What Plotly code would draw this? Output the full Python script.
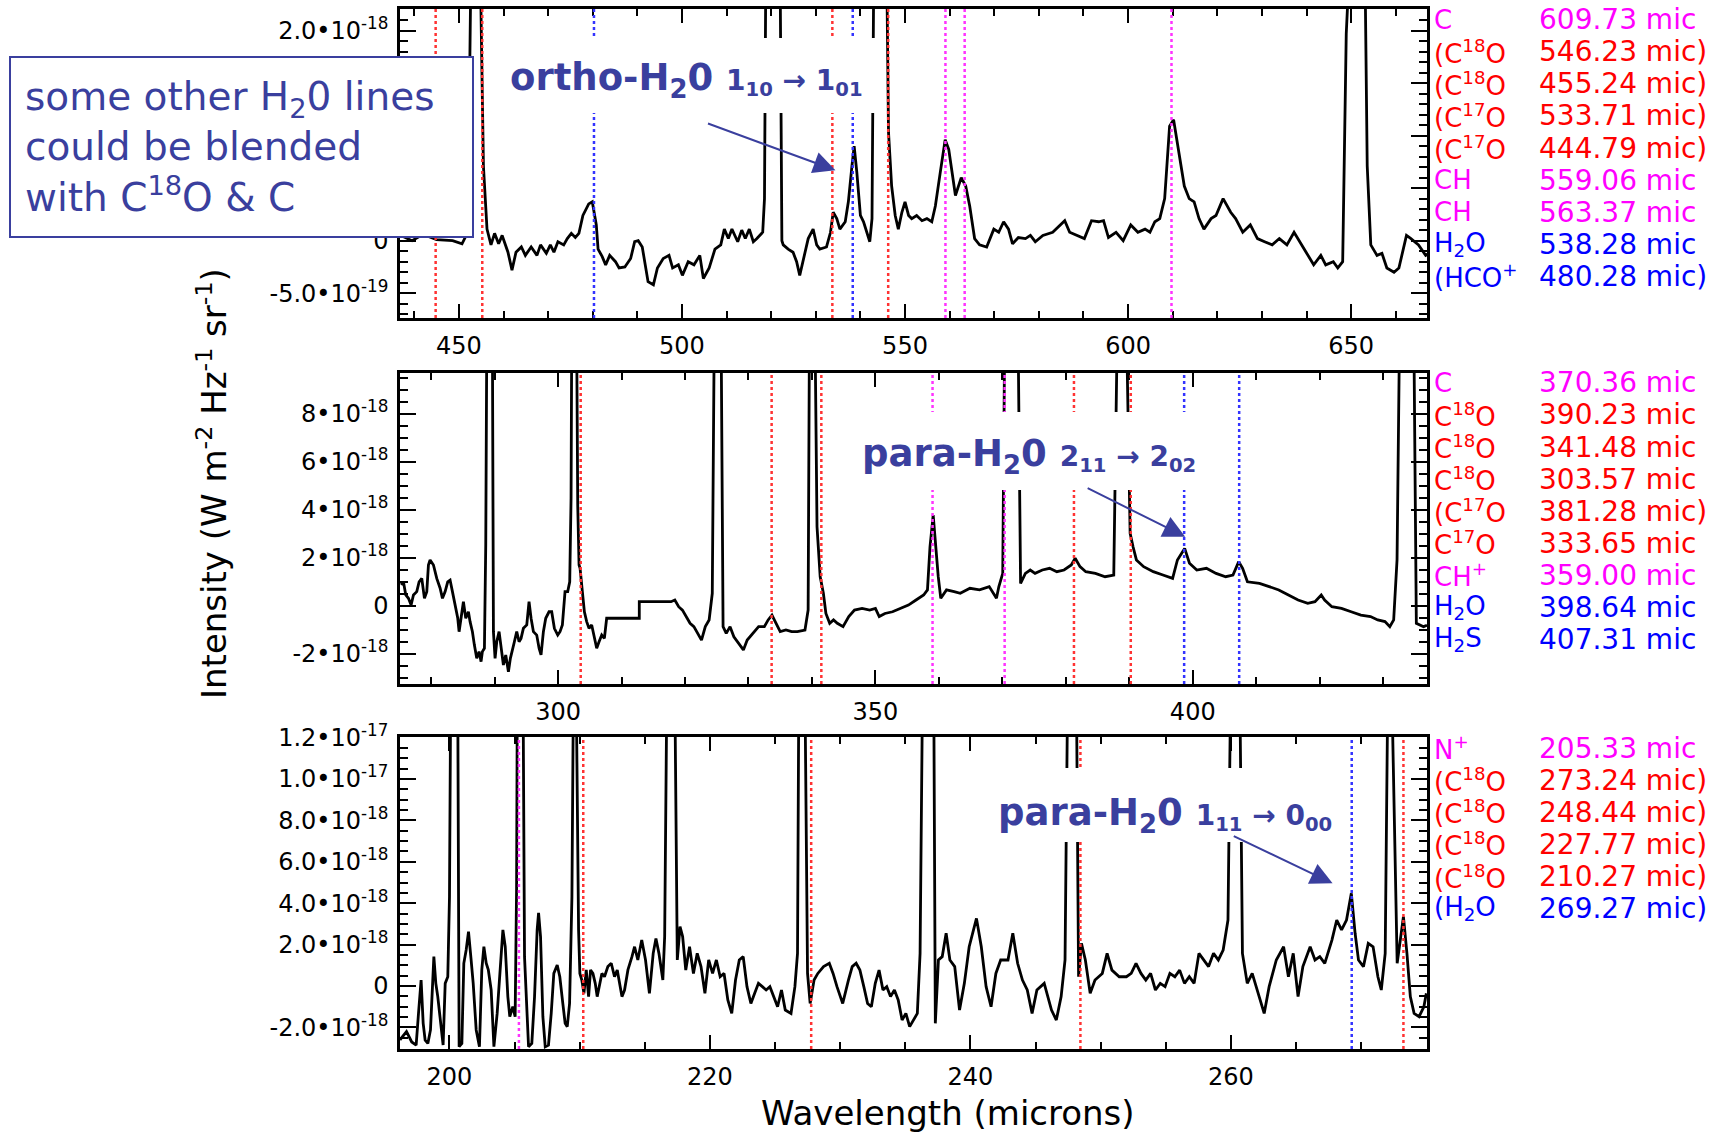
import plotly.graph_objects as go

FIG_W, FIG_H = 1710, 1134

# ---------------- spectra (wavelength in microns, intensity in 1e-18 W m^-2 Hz^-1 sr^-1)
top_spectrum = [
    (437.0, 0.05), (439.5, 0.0), (442.0, 0.06), (445.0, 0.01), (448.6, 0.00), (450.7, -0.03), (452.0, 0.08),
    (452.7, 2.6), (454.8, 2.6), (455.5, 0.71), (456.3, 0.11), (457.2, -0.04), (458.0, 0.07), (458.9, -0.03),
    (459.7, 0.05), (461.0, -0.11), (461.9, -0.28), (462.8, -0.11), (464.0, -0.06), (464.9, -0.14), (466.2, -0.06),
    (467.5, -0.14), (468.3, -0.04), (469.6, -0.12), (470.5, -0.04), (471.3, -0.11), (472.2, -0.01), (473.5, -0.04),
    (474.3, 0.02), (475.2, 0.07), (476.1, 0.03), (476.9, 0.07), (477.8, 0.24), (479.1, 0.35), (479.9, 0.37),
    (480.8, 0.15), (481.2, -0.08), (482.1, -0.15), (482.9, -0.23), (483.8, -0.14), (485.1, -0.20), (485.9, -0.26),
    (487.2, -0.25), (488.5, -0.17), (489.4, -0.01), (490.2, 0.00), (491.1, -0.06), (492.4, -0.39), (493.6, -0.42),
    (494.5, -0.26), (495.8, -0.17), (497.1, -0.14), (497.9, -0.26), (499.2, -0.23), (500.1, -0.33), (501.4, -0.20),
    (502.7, -0.23), (504.0, -0.14), (504.8, -0.36), (506.1, -0.26), (507.4, -0.08), (508.7, -0.04), (509.5, 0.11),
    (510.4, 0.02), (511.2, 0.11), (512.5, -0.01), (513.4, 0.10), (514.2, 0.02), (515.1, 0.11), (516.0, -0.01),
    (516.8, 0.02), (518.1, 0.08), (518.5, 0.40), (518.8, 2.6), (522.0, 2.6), (522.4, 0.0), (522.7, -0.04),
    (523.8, -0.08), (524.9, -0.11), (525.7, -0.20), (526.4, -0.33), (527.1, -0.20), (528.3, 0.02), (529.4, 0.11),
    (530.2, -0.04), (530.9, -0.08), (532.4, -0.06), (533.3, 0.08), (533.9, 0.27), (534.7, 0.21), (535.4, 0.11),
    (536.6, 0.18), (537.3, 0.37), (538.1, 0.71), (538.6, 0.90), (539.2, 0.65), (540.0, 0.24), (540.7, 0.18),
    (541.5, 0.08), (542.1, -0.01), (542.6, 0.21), (543.0, 2.6), (545.9, 2.6), (546.3, 1.03), (547.0, 0.52),
    (547.8, 0.24), (548.5, 0.11), (549.3, 0.27), (550.0, 0.37), (550.8, 0.24), (551.5, 0.21), (552.6, 0.24),
    (553.8, 0.19), (554.9, 0.21), (556.0, 0.18), (556.8, 0.33), (557.9, 0.65), (559.0, 0.96), (559.8, 0.87),
    (560.5, 0.65), (561.3, 0.43), (562.6, 0.60), (563.6, 0.52), (564.5, 0.33), (565.6, 0.02), (566.7, -0.04),
    (568.3, -0.06), (569.9, 0.11), (571.0, 0.08), (572.1, 0.18), (573.2, 0.11), (574.1, -0.03), (575.4, 0.03),
    (577.0, 0.02), (578.1, 0.05), (579.2, -0.01), (580.9, 0.05), (583.1, 0.08), (584.7, 0.15), (585.8, 0.19),
    (586.9, 0.08), (588.5, 0.05), (590.2, 0.02), (591.8, 0.19), (593.4, 0.18), (594.5, 0.19), (595.6, 0.03),
    (597.3, 0.08), (598.9, 0.00), (600.6, 0.15), (602.2, 0.08), (603.8, 0.11), (604.9, 0.08), (606.0, 0.18),
    (607.1, 0.21), (608.2, 0.40), (609.3, 1.09), (610.2, 1.15), (610.9, 0.96), (612.6, 0.52), (613.7, 0.40),
    (614.8, 0.37), (615.9, 0.21), (617.0, 0.11), (618.6, 0.21), (619.7, 0.24), (621.3, 0.40), (623.0, 0.27),
    (624.1, 0.21), (625.7, 0.08), (627.4, 0.15), (629.0, 0.02), (630.6, -0.01), (632.3, -0.04), (633.9, 0.02),
    (635.6, -0.04), (637.2, 0.08), (638.8, -0.04), (639.9, -0.11), (641.6, -0.23), (643.2, -0.14), (644.3, -0.23),
    (646.0, -0.20), (647.0, -0.26), (648.1, -0.20), (648.9, 1.97), (649.6, 2.6), (653.1, 2.6), (653.6, 0.71),
    (654.4, -0.04), (655.8, -0.14), (656.9, -0.12), (658.0, -0.26), (659.6, -0.30), (660.7, -0.26), (662.4, 0.05),
    (663.4, 0.02), (665.1, -0.04), (666.7, -0.14), (667.8, -0.11),
]

mid_spectrum = [
    (275.28, 0.88), (275.64, 1.01), (276.01, 0.46), (276.43, 0.32), (276.85, 0.04), (277.22, 0.46), (277.74, 0.60),
    (278.11, 1.01), (278.53, 1.15), (278.95, 0.32), (279.32, 0.60), (279.58, 1.71), (279.84, 1.92), (280.37, 1.71),
    (280.89, 1.15), (281.42, 0.74), (281.79, 0.32), (282.21, 0.60), (282.62, 1.01), (282.99, 1.08), (283.36, 0.60),
    (283.78, 0.04), (284.20, -0.51), (284.41, -1.07), (284.72, -0.51), (285.09, 0.18), (285.46, -0.51), (285.88, -0.24),
    (286.14, -0.65), (286.51, -1.07), (286.82, -1.63), (287.19, -2.18), (287.56, -1.90), (287.87, -2.32), (288.08, -1.90),
    (288.40, -1.76), (288.61, 2.54), (288.77, 11.0), (289.66, 11.0), (289.82, -1.07), (290.08, -2.18), (290.34, -1.49),
    (290.71, -1.07), (291.02, -1.63), (291.39, -2.46), (291.76, -2.04), (292.18, -2.74), (292.49, -2.18), (292.81, -1.76),
    (293.12, -1.49), (293.49, -1.07), (293.86, -1.49), (294.17, -1.35), (294.54, -0.93), (295.07, -0.79), (295.43, 0.18),
    (295.75, -0.51), (296.12, -1.07), (296.64, -1.21), (297.01, -1.76), (297.32, -2.04), (297.69, -1.07), (298.06, -0.51),
    (298.58, -0.24), (299.00, -0.24), (299.42, -0.93), (299.95, -1.21), (300.31, -1.07), (300.68, -0.79), (301.10, 0.60),
    (301.52, 0.60), (301.84, 1.01), (302.05, 4.49), (302.15, 11.0), (302.94, 11.0), (303.10, 4.21), (303.31, 1.71),
    (303.47, 1.57), (303.83, 0.60), (304.15, -0.24), (304.51, -0.65), (304.88, -0.93), (305.30, -0.79), (305.72, -1.35),
    (306.09, -1.76), (306.46, -1.49), (306.88, -1.21), (307.30, -1.35), (307.66, -0.51), (307.93, -0.51), (312.80, -0.51),
    (312.80, 0.18), (317.80, 0.18), (318.40, 0.25), (319.00, -0.03), (319.60, -0.17), (320.20, -0.44), (320.80, -0.72),
    (321.40, -0.86), (322.00, -1.14), (322.60, -1.42), (323.20, -0.86), (323.80, -0.58), (324.30, 0.53), (324.60, 11.0),
    (325.70, 11.0), (326.00, -0.86), (326.50, -1.14), (327.10, -0.86), (327.70, -1.28), (328.60, -1.63), (329.20, -1.83),
    (329.80, -1.42), (330.70, -1.14), (331.60, -0.86), (332.50, -0.86), (333.10, -0.58), (333.70, -0.38), (334.40, -0.72),
    (335.00, -1.07), (335.90, -1.00), (336.80, -1.07), (337.70, -1.07), (338.90, -1.00), (339.40, -0.17), (339.60, 11.0),
    (340.50, 11.0), (340.80, 3.30), (341.30, 1.22), (341.80, 0.53), (342.20, -0.31), (342.80, -0.72), (343.40, -0.58),
    (344.00, -0.72), (344.90, -0.86), (345.80, -0.44), (346.70, -0.17), (347.90, -0.10), (349.10, -0.17), (350.00, -0.10),
    (350.60, -0.44), (351.50, -0.31), (352.70, -0.24), (354.00, -0.10), (355.20, 0.04), (356.40, 0.25), (357.60, 0.46),
    (358.20, 0.67), (358.60, 2.47), (359.10, 3.79), (359.50, 2.47), (359.90, 1.22), (360.30, 0.32), (361.20, 0.67),
    (362.40, 0.60), (363.37, 0.53), (364.89, 0.74), (366.41, 0.67), (367.93, 0.81), (369.07, 0.32), (369.45, 0.81),
    (370.06, 1.36), (370.36, 11.0), (372.49, 11.0), (372.87, 0.94), (373.63, 1.36), (374.39, 1.50), (375.15, 1.36),
    (376.30, 1.50), (377.44, 1.57), (378.58, 1.43), (379.72, 1.50), (380.86, 1.71), (381.47, 1.99), (382.23, 1.64),
    (383.14, 1.43), (384.66, 1.36), (386.18, 1.22), (387.55, 1.29), (388.08, 11.0), (389.60, 11.0), (390.13, 3.03),
    (390.59, 2.47), (391.12, 1.92), (392.26, 1.64), (393.78, 1.43), (395.30, 1.29), (396.82, 1.15), (397.58, 1.92),
    (398.72, 2.40), (399.48, 1.78), (400.63, 1.50), (402.15, 1.57), (403.67, 1.36), (405.19, 1.22), (406.33, 1.29),
    (407.24, 1.85), (407.85, 1.57), (408.61, 1.01), (410.51, 0.94), (412.03, 0.81), (413.55, 0.67), (415.07, 0.46),
    (416.59, 0.25), (418.11, 0.11), (419.25, 0.18), (420.24, 0.46), (420.77, 0.25), (421.91, -0.03), (423.43, -0.10),
    (424.95, -0.24), (426.48, -0.38), (428.00, -0.44), (429.14, -0.58), (430.28, -0.65), (431.04, -0.86), (431.65, -0.58),
    (432.18, 1.92), (432.56, 11.0), (434.84, 11.0), (435.22, -0.72), (436.36, -0.86), (436.90, -0.80),
]

bot_spectrum = [
    (196.20, -2.60), (196.70, -2.20), (197.10, -2.70), (197.44, -2.85), (197.62, -1.32), (197.82, 0.29), (197.98, -1.80),
    (198.13, -2.61), (198.34, -2.77), (198.54, -2.12), (198.80, 1.42), (198.95, 0.13), (199.10, -0.51), (199.31, -1.64),
    (199.51, -2.85), (199.67, 0.13), (199.87, 0.45), (200.00, 4.32), (200.08, 13.0), (200.64, 13.0), (200.74, -2.93),
    (200.95, -2.77), (201.10, 1.10), (201.28, 1.74), (201.46, 2.63), (201.66, 1.26), (201.82, 0.13), (202.05, -2.12),
    (202.30, -2.93), (202.48, 0.78), (202.64, 1.90), (202.82, 1.10), (202.98, 0.78), (203.20, -0.19), (203.41, -2.93),
    (203.66, -1.32), (203.92, 1.10), (204.10, 2.71), (204.28, 1.90), (204.48, -0.51), (204.63, -1.48), (204.86, -0.99),
    (205.04, -1.48), (205.15, 4.64), (205.20, 13.0), (205.66, 13.0), (205.76, 1.42), (205.91, -0.51), (206.07, -2.93),
    (206.32, -2.77), (206.53, -0.51), (206.73, 2.71), (206.84, 3.54), (206.99, 2.39), (207.17, -1.48), (207.35, -2.93),
    (207.60, -2.85), (207.81, -1.32), (208.01, 0.61), (208.27, 1.02), (208.47, 0.45), (208.70, -0.84), (208.88, -1.80),
    (209.04, -1.96), (209.22, -0.84), (209.40, 4.32), (209.50, 13.0), (209.75, 13.0), (209.91, 2.71), (210.01, 0.61),
    (210.16, 0.29), (210.32, -0.35), (210.50, 0.78), (210.68, -0.51), (210.83, 0.78), (211.01, 0.61), (211.19, 0.13),
    (211.34, -0.51), (211.52, 0.13), (211.70, 0.61), (211.90, 0.45), (212.16, 0.94), (212.42, 1.10), (212.67, 0.45),
    (212.88, 0.78), (213.06, 0.13), (213.24, -0.51), (213.44, -0.19), (213.70, 0.78), (214.01, 1.42), (214.21, 1.90),
    (214.46, 1.26), (214.76, 2.22), (215.05, 1.26), (215.35, -0.35), (215.64, 1.58), (215.85, 2.30), (216.08, 1.58),
    (216.38, 0.29), (216.52, 2.39), (216.67, 13.0), (217.32, 13.0), (217.49, 1.26), (217.70, 2.87), (217.90, 2.39),
    (218.14, 0.77), (218.43, 1.90), (218.73, 0.61), (219.02, 1.58), (219.31, 0.94), (219.61, -0.35), (219.90, 1.26),
    (220.20, 0.61), (220.49, 1.26), (220.78, 0.45), (221.08, 0.61), (221.37, -0.67), (221.67, -1.32), (221.96, 0.29),
    (222.25, 1.26), (222.55, 1.42), (222.84, -0.03), (223.14, -0.84), (223.43, -0.35), (223.72, 0.13), (224.02, -0.03),
    (224.31, -0.19), (224.60, -0.03), (224.90, -0.51), (225.19, -1.00), (225.49, -0.19), (225.78, -1.16), (226.22, -1.32),
    (226.52, -0.03), (226.72, 1.58), (226.81, 13.0), (227.31, 13.0), (227.49, 0.61), (227.69, -0.84), (227.99, 0.29),
    (228.28, 0.61), (228.72, 0.94), (229.16, 1.10), (229.45, 0.61), (229.75, -0.03), (230.19, -0.84), (230.63, 0.29),
    (230.92, 0.94), (231.22, 1.10), (231.51, 0.77), (231.81, -0.03), (232.10, -0.84), (232.39, -1.00), (232.69, 0.13),
    (232.98, 0.77), (233.28, -0.19), (233.57, -0.03), (233.86, -0.51), (234.16, -0.19), (234.45, -0.67), (234.75, -1.64),
    (235.04, -1.32), (235.33, -1.96), (235.63, -1.64), (235.92, -1.32), (236.13, 1.58), (236.30, 13.0), (237.19, 13.0),
    (237.30, -1.80), (237.54, 1.26), (237.83, 1.42), (238.13, 2.55), (238.42, 1.26), (238.79, 0.94), (239.16, -1.16),
    (239.53, 0.13), (239.90, 1.90), (240.46, 3.27), (240.83, 1.90), (241.20, -0.03), (241.58, -1.00), (241.95, 0.61),
    (242.32, 1.26), (242.88, 1.26), (243.25, 2.55), (243.62, 1.10), (243.99, 0.29), (244.36, -0.19), (244.73, -1.32),
    (245.10, -0.19), (245.66, 0.13), (246.22, -1.16), (246.59, -1.64), (246.96, -0.51), (247.26, 1.26), (247.44, 13.0),
    (248.15, 13.0), (248.30, 0.45), (248.52, 2.06), (248.82, 1.26), (249.19, -0.35), (249.56, 0.29), (250.12, 0.61),
    (250.49, 1.58), (250.86, 0.77), (251.42, 0.45), (251.97, 0.45), (252.34, 0.61), (252.71, 1.10), (253.09, 0.61),
    (253.46, 0.29), (253.83, 0.61), (254.20, -0.19), (254.57, 0.13), (254.94, -0.03), (255.31, 0.61), (255.69, 0.45),
    (256.06, 0.77), (256.43, 0.13), (256.80, 0.45), (257.17, 0.13), (257.54, 1.58), (257.91, 1.26), (258.28, 0.94),
    (258.66, 1.58), (259.03, 1.26), (259.40, 1.74), (259.77, 3.19), (259.95, 13.0), (260.70, 13.0), (260.88, 1.58),
    (261.25, 0.13), (261.63, 0.61), (262.18, -0.51), (262.55, -1.32), (262.93, -0.03), (263.48, 1.26), (264.04, 1.90),
    (264.41, 0.45), (264.78, 1.58), (265.15, -0.51), (265.52, 0.94), (266.08, 1.90), (266.45, 1.26), (266.82, 1.42),
    (267.20, 1.10), (267.75, 2.22), (268.12, 3.19), (268.49, 2.71), (268.87, 3.19), (269.24, 4.48), (269.53, 2.55),
    (269.79, 1.26), (270.17, 0.94), (270.54, 2.06), (270.91, 1.90), (271.28, 0.45), (271.54, -0.19), (271.84, 1.58),
    (272.02, 13.0), (272.39, 13.0), (272.76, 1.10), (273.02, 2.39), (273.24, 3.35), (273.51, 1.58), (273.77, -0.51),
    (274.06, -1.32), (274.44, -1.48), (274.81, -1.00), (275.00, -0.35),
]

# ---------------- identified lines (species label, wavelength in microns, colour key, closing bracket)
top_species = ["C", "(C<sup>18</sup>O", "(C<sup>18</sup>O", "(C<sup>17</sup>O", "(C<sup>17</sup>O",
               "CH", "CH", "H<sub>2</sub>O", "(HCO<sup>+</sup>"]
top_lines = [609.73, 546.23, 455.24, 533.71, 444.79, 559.06, 563.37, 538.28, 480.28]
top_kinds = ["m", "r", "r", "r", "r", "m", "m", "b", "b"]
top_close = ["", ")", ")", ")", ")", "", "", "", ")"]

mid_species = ["C", "C<sup>18</sup>O", "C<sup>18</sup>O", "C<sup>18</sup>O", "(C<sup>17</sup>O",
               "C<sup>17</sup>O", "CH<sup>+</sup>", "H<sub>2</sub>O", "H<sub>2</sub>S"]
mid_lines = [370.36, 390.23, 341.48, 303.57, 381.28, 333.65, 359.00, 398.64, 407.31]
mid_kinds = ["m", "r", "r", "r", "r", "r", "m", "b", "b"]
mid_close = ["", "", "", "", ")", "", "", "", ""]

bot_species = ["N<sup>+</sup>", "(C<sup>18</sup>O", "(C<sup>18</sup>O", "(C<sup>18</sup>O", "(C<sup>18</sup>O",
               "(H<sub>2</sub>O"]
bot_lines = [205.33, 273.24, 248.44, 227.77, 210.27, 269.27]
bot_kinds = ["m", "r", "r", "r", "r", "b"]
bot_close = ["", ")", ")", ")", ")", ")"]

# tick labels (the ones hidden behind the note box in the original are left blank)
top_yvals = [-0.5, 0, 0.5, 1.0, 1.5, 2.0]
top_ytext = ["-5.0•10<sup>-19</sup>", "0", "", "", "", "2.0•10<sup>-18</sup>"]
mid_yvals = [-2, 0, 2, 4, 6, 8]
mid_ytext = ["-2•10<sup>-18</sup>", "0", "2•10<sup>-18</sup>", "4•10<sup>-18</sup>",
             "6•10<sup>-18</sup>", "8•10<sup>-18</sup>"]
bot_yvals = [-2, 0, 2, 4, 6, 8, 10, 12]
bot_ytext = ["-2.0•10<sup>-18</sup>", "0", "2.0•10<sup>-18</sup>", "4.0•10<sup>-18</sup>", "6.0•10<sup>-18</sup>",
             "8.0•10<sup>-18</sup>", "1.0•10<sup>-17</sup>", "1.2•10<sup>-17</sup>"]

# ---------------- styling
FONT = "DejaVu Sans"
NAVY = "#3a3f9e"
LABEL_COL = {"m": "#ff00ff", "r": "#ff0000", "b": "#0000ff"}
LINE_COL = {"m": "#ff33ff", "r": "#ff3333", "b": "#3333ff"}


def px(x):
    return x / FIG_W


def py(y):
    return 1 - y / FIG_H


panels = [
    dict(spec=top_spectrum, sp=top_species, ln=top_lines, kd=top_kinds, cl=top_close,
         xr=[436.8, 667.0], yr=[-0.736, 2.205], xd=50, xm=10, yv=top_yvals, yt=top_ytext, ym=0.1,
         t=9, b=318, row0=19.6),
    dict(spec=mid_spectrum, sp=mid_species, ln=mid_lines, kd=mid_kinds, cl=mid_close,
         xr=[275.1, 436.9], yr=[-3.25, 9.71], xd=50, xm=10, yv=mid_yvals, yt=mid_ytext, ym=0.5,
         t=373, b=684, row0=382.8),
    dict(spec=bot_spectrum, sp=bot_species, ln=bot_lines, kd=bot_kinds, cl=bot_close,
         xr=[196.2, 275.05], yr=[-3.04, 12.03], xd=20, xm=5, yv=bot_yvals, yt=bot_ytext, ym=0.5,
         t=737, b=1049, row0=748.2),
]

fig = go.Figure()
shapes = []
annotations = []
layout_axes = {}
ROW_STEP = 32.1

for i, p in enumerate(panels, start=1):
    xs = "" if i == 1 else str(i)
    xa, ya = "x" + xs, "y" + xs
    fig.add_trace(go.Scatter(
        x=[v[0] for v in p["spec"]], y=[v[1] for v in p["spec"]], mode="lines",
        line=dict(color="black", width=2.8), xaxis=xa, yaxis=ya, showlegend=False, hoverinfo="skip"))

    layout_axes["xaxis" + xs] = dict(
        domain=[px(400), px(1427)], anchor=ya, range=p["xr"], tickmode="linear", tick0=0, dtick=p["xd"],
        ticks="inside", ticklen=14, tickwidth=2, tickcolor="black", automargin=False,
        minor=dict(tickmode="linear", tick0=0, dtick=p["xm"], ticks="inside", ticklen=7, tickwidth=1.5,
                   tickcolor="black"),
        showline=True, linecolor="black", linewidth=2.5, mirror="allticks", showgrid=False, zeroline=False,
        tickfont=dict(family=FONT, size=24, color="black"), ticklabelstandoff=4)
    layout_axes["yaxis" + xs] = dict(
        domain=[py(p["b"]), py(p["t"])], anchor=xa, range=p["yr"], tickmode="array",
        tickvals=p["yv"], ticktext=p["yt"], automargin=False,
        ticks="inside", ticklen=16, tickwidth=2, tickcolor="black",
        minor=dict(tickmode="linear", tick0=0, dtick=p["ym"], ticks="inside", ticklen=8, tickwidth=1.5,
                   tickcolor="black"),
        showline=True, linecolor="black", linewidth=2.5, mirror="allticks", showgrid=False, zeroline=False,
        tickfont=dict(family=FONT, size=24, color="black"), ticklabelstandoff=4)

    # dotted line markers
    for w, k in zip(p["ln"], p["kd"]):
        shapes.append(dict(type="line", xref=xa, yref=ya + " domain", x0=w, x1=w, y0=0, y1=1,
                           line=dict(color=LINE_COL[k], width=2.5, dash="dot"), layer="above"))

    # right-hand line list
    for j, (s, w, k, c) in enumerate(zip(p["sp"], p["ln"], p["kd"], p["cl"])):
        yy = py(p["row0"] + j * ROW_STEP)
        annotations.append(dict(text=s, x=px(1433), y=yy, xref="paper", yref="paper", xanchor="left",
                                yanchor="middle", showarrow=False, borderpad=0,
                                font=dict(family=FONT, size=26, color=LABEL_COL[k])))
        annotations.append(dict(text=f"{w:.2f} mic{c}", x=px(1538), y=yy, xref="paper", yref="paper",
                                xanchor="left", yanchor="middle", showarrow=False, borderpad=0,
                                font=dict(family=FONT, size=28, color=LABEL_COL[k])))

# white patches behind the transition labels
for (x0, x1, y0, y1) in [(495, 882, 38, 113), (850, 1205, 412, 490), (985, 1340, 768, 842)]:
    shapes.append(dict(type="rect", xref="paper", yref="paper", x0=px(x0), x1=px(x1), y0=py(y1), y1=py(y0),
                       fillcolor="white", line=dict(width=0), layer="above"))

# transition labels
trans = [
    ('<b>ortho-H<sub>2</sub>0 <span style="font-size:28px">1<sub>10</sub> → 1<sub>01</sub></span></b>', 508, 80),
    ('<b>para-H<sub>2</sub>0 <span style="font-size:28px">2<sub>11</sub> → 2<sub>02</sub></span></b>', 860, 456),
    ('<b>para-H<sub>2</sub>0 <span style="font-size:28px">1<sub>11</sub> → 0<sub>00</sub></span></b>', 996, 815),
]
for txt, x0, yc in trans:
    annotations.append(dict(text=txt, x=px(x0), y=py(yc), xref="paper", yref="paper", xanchor="left",
                            yanchor="middle", showarrow=False, font=dict(family=FONT, size=37, color=NAVY)))

# arrows (head and tail in data coords)
arrows = [("x", "y", 534.4, 0.67, 505.5, 1.12),
          ("x2", "y2", 398.8, 2.89, 383.2, 4.94),
          ("x3", "y3", 267.8, 4.96, 260.1, 7.28)]
for xa, ya, hx, hy, tx, ty in arrows:
    annotations.append(dict(text="", x=hx, y=hy, xref=xa, yref=ya, ax=tx, ay=ty, axref=xa, ayref=ya,
                            showarrow=True, arrowhead=2, arrowsize=2.2, arrowwidth=2, arrowcolor=NAVY,
                            standoff=0))

# note box
annotations.append(dict(
    text="some other H<sub>2</sub>0 lines<br>could be blended<br>with C<sup>18</sup>O &amp; C",
    x=px(9), y=py(56), xref="paper", yref="paper", xanchor="left", yanchor="top", showarrow=False,
    align="left", valign="middle", width=433, height=150, borderpad=14, borderwidth=2, bordercolor=NAVY,
    bgcolor="white", font=dict(family=FONT, size=39, color=NAVY)))

# axis titles
annotations.append(dict(text="Intensity (W m<sup>-2</sup> Hz<sup>-1</sup> sr<sup>-1</sup>)", x=px(212), y=py(484),
                        xref="paper", yref="paper", textangle=-90, showarrow=False, xanchor="center",
                        yanchor="middle", font=dict(family=FONT, size=34, color="black")))
annotations.append(dict(text="Wavelength (microns)", x=px(948), y=py(1113), xref="paper", yref="paper",
                        showarrow=False, xanchor="center", yanchor="middle",
                        font=dict(family=FONT, size=34, color="black")))

fig.update_layout(width=FIG_W, height=FIG_H, margin=dict(l=0, r=0, t=0, b=0, pad=0, autoexpand=False),
                  paper_bgcolor="white", plot_bgcolor="white", showlegend=False, shapes=shapes,
                  annotations=annotations, font=dict(family=FONT), **layout_axes)

fig.write_html("out.html")
